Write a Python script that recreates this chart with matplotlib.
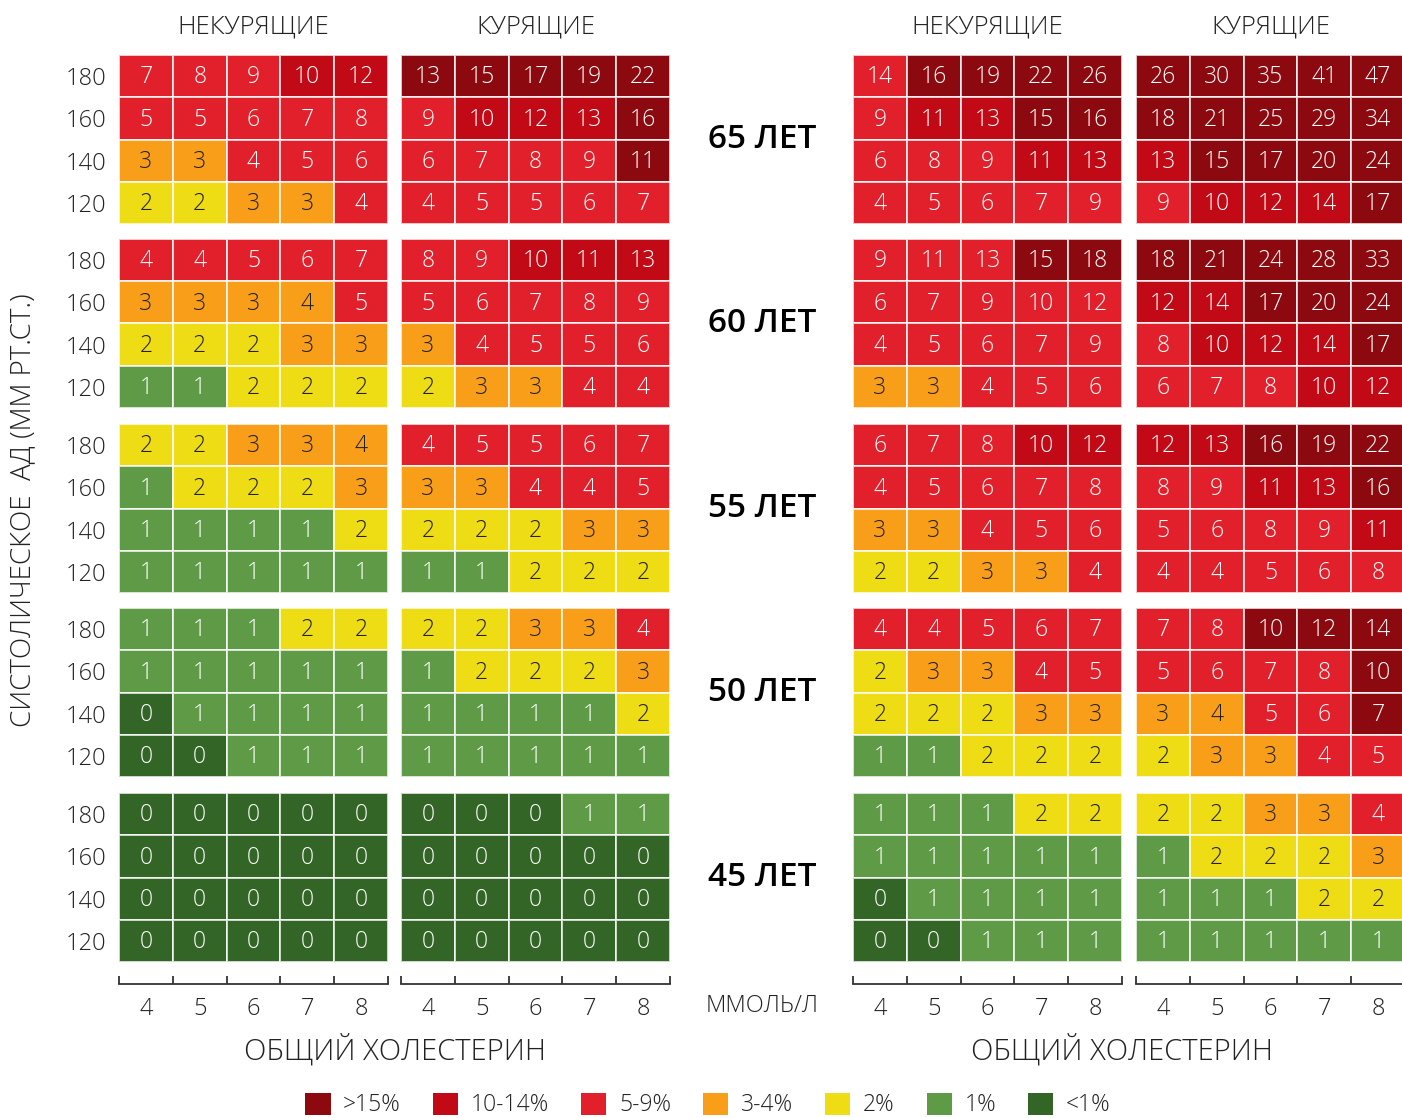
import numpy as np
import matplotlib
matplotlib.use("Agg")
import matplotlib.pyplot as plt
from matplotlib.colors import ListedColormap
from matplotlib.patches import Patch

plt.rcParams['font.family'] = ['Open Sans', 'DejaVu Sans']
plt.rcParams['font.weight'] = 'light'

# ---- data -------------------------------------------------------------
ages = ['65 ЛЕТ', '60 ЛЕТ', '55 ЛЕТ', '50 ЛЕТ', '45 ЛЕТ']
sbp = [180, 160, 140, 120]
chol = [4, 5, 6, 7, 8]
groups = ['НЕКУРЯЩИЕ', 'КУРЯЩИЕ', 'НЕКУРЯЩИЕ', 'КУРЯЩИЕ']

risk_labels = ['<1%', '1%', '2%', '3-4%', '5-9%', '10-14%', '>15%']
risk_colors = ['#336526', '#5f9a47', '#eedc14', '#f89e18',
               '#e2202b', '#c20a16', '#8c0a0f']

# values, one 4x5 grid per age (rows: 180..120, cols: 4..8)
left_nosmoke = [
    [[7, 8, 9, 10, 12], [5, 5, 6, 7, 8], [3, 3, 4, 5, 6], [2, 2, 3, 3, 4]],
    [[4, 4, 5, 6, 7], [3, 3, 3, 4, 5], [2, 2, 2, 3, 3], [1, 1, 2, 2, 2]],
    [[2, 2, 3, 3, 4], [1, 2, 2, 2, 3], [1, 1, 1, 1, 2], [1, 1, 1, 1, 1]],
    [[1, 1, 1, 2, 2], [1, 1, 1, 1, 1], [0, 1, 1, 1, 1], [0, 0, 1, 1, 1]],
    [[0, 0, 0, 0, 0], [0, 0, 0, 0, 0], [0, 0, 0, 0, 0], [0, 0, 0, 0, 0]],
]
left_smoke = [
    [[13, 15, 17, 19, 22], [9, 10, 12, 13, 16], [6, 7, 8, 9, 11], [4, 5, 5, 6, 7]],
    [[8, 9, 10, 11, 13], [5, 6, 7, 8, 9], [3, 4, 5, 5, 6], [2, 3, 3, 4, 4]],
    [[4, 5, 5, 6, 7], [3, 3, 4, 4, 5], [2, 2, 2, 3, 3], [1, 1, 2, 2, 2]],
    [[2, 2, 3, 3, 4], [1, 2, 2, 2, 3], [1, 1, 1, 1, 2], [1, 1, 1, 1, 1]],
    [[0, 0, 0, 1, 1], [0, 0, 0, 0, 0], [0, 0, 0, 0, 0], [0, 0, 0, 0, 0]],
]
right_nosmoke = [
    [[14, 16, 19, 22, 26], [9, 11, 13, 15, 16], [6, 8, 9, 11, 13], [4, 5, 6, 7, 9]],
    [[9, 11, 13, 15, 18], [6, 7, 9, 10, 12], [4, 5, 6, 7, 9], [3, 3, 4, 5, 6]],
    [[6, 7, 8, 10, 12], [4, 5, 6, 7, 8], [3, 3, 4, 5, 6], [2, 2, 3, 3, 4]],
    [[4, 4, 5, 6, 7], [2, 3, 3, 4, 5], [2, 2, 2, 3, 3], [1, 1, 2, 2, 2]],
    [[1, 1, 1, 2, 2], [1, 1, 1, 1, 1], [0, 1, 1, 1, 1], [0, 0, 1, 1, 1]],
]
right_smoke = [
    [[26, 30, 35, 41, 47], [18, 21, 25, 29, 34], [13, 15, 17, 20, 24], [9, 10, 12, 14, 17]],
    [[18, 21, 24, 28, 33], [12, 14, 17, 20, 24], [8, 10, 12, 14, 17], [6, 7, 8, 10, 12]],
    [[12, 13, 16, 19, 22], [8, 9, 11, 13, 16], [5, 6, 8, 9, 11], [4, 4, 5, 6, 8]],
    [[7, 8, 10, 12, 14], [5, 6, 7, 8, 10], [3, 4, 5, 6, 7], [2, 3, 3, 4, 5]],
    [[2, 2, 3, 3, 4], [1, 2, 2, 2, 3], [1, 1, 1, 2, 2], [1, 1, 1, 1, 1]],
]

# colour class of each cell as printed (index into risk_labels)
left_nosmoke_cls = [
    [[4, 4, 4, 5, 5], [4, 4, 4, 4, 4], [3, 3, 4, 4, 4], [2, 2, 3, 3, 4]],
    [[4, 4, 4, 4, 4], [3, 3, 3, 3, 4], [2, 2, 2, 3, 3], [1, 1, 2, 2, 2]],
    [[2, 2, 3, 3, 3], [1, 2, 2, 2, 3], [1, 1, 1, 1, 2], [1, 1, 1, 1, 1]],
    [[1, 1, 1, 2, 2], [1, 1, 1, 1, 1], [0, 1, 1, 1, 1], [0, 0, 1, 1, 1]],
    [[0, 0, 0, 0, 0], [0, 0, 0, 0, 0], [0, 0, 0, 0, 0], [0, 0, 0, 0, 0]],
]
left_smoke_cls = [
    [[6, 6, 6, 6, 6], [4, 5, 5, 5, 6], [4, 4, 4, 4, 6], [4, 4, 4, 4, 4]],
    [[4, 4, 5, 5, 5], [4, 4, 4, 4, 4], [3, 4, 4, 4, 4], [2, 3, 3, 4, 4]],
    [[4, 4, 4, 4, 4], [3, 3, 4, 4, 4], [2, 2, 2, 3, 3], [1, 1, 2, 2, 2]],
    [[2, 2, 3, 3, 4], [1, 2, 2, 2, 3], [1, 1, 1, 1, 2], [1, 1, 1, 1, 1]],
    [[0, 0, 0, 1, 1], [0, 0, 0, 0, 0], [0, 0, 0, 0, 0], [0, 0, 0, 0, 0]],
]
right_nosmoke_cls = [
    [[4, 6, 6, 6, 6], [4, 5, 5, 6, 6], [4, 4, 4, 5, 5], [4, 4, 4, 4, 4]],
    [[4, 4, 4, 6, 6], [4, 4, 4, 4, 4], [4, 4, 4, 4, 4], [3, 3, 4, 4, 4]],
    [[4, 4, 4, 5, 5], [4, 4, 4, 4, 4], [3, 3, 4, 4, 4], [2, 2, 3, 3, 4]],
    [[4, 4, 4, 4, 4], [2, 3, 3, 4, 4], [2, 2, 2, 3, 3], [1, 1, 2, 2, 2]],
    [[1, 1, 1, 2, 2], [1, 1, 1, 1, 1], [0, 1, 1, 1, 1], [0, 0, 1, 1, 1]],
]
right_smoke_cls = [
    [[6, 6, 6, 6, 6], [6, 6, 6, 6, 6], [5, 6, 6, 6, 6], [4, 5, 5, 5, 6]],
    [[6, 6, 6, 6, 6], [5, 5, 6, 6, 6], [4, 5, 5, 5, 6], [4, 4, 4, 5, 5]],
    [[5, 5, 6, 6, 6], [4, 4, 5, 5, 6], [4, 4, 4, 4, 5], [4, 4, 4, 4, 4]],
    [[4, 4, 6, 6, 6], [4, 4, 4, 4, 6], [3, 3, 4, 4, 6], [2, 3, 3, 4, 4]],
    [[2, 2, 3, 3, 4], [1, 2, 2, 2, 3], [1, 1, 1, 2, 2], [1, 1, 1, 1, 1]],
]

panels = [(left_nosmoke, left_nosmoke_cls), (left_smoke, left_smoke_cls),
          (right_nosmoke, right_nosmoke_cls), (right_smoke, right_smoke_cls)]

# ---- layout (pixels) --------------------------------------------------
W, H = 1402, 1118
px_left = [119, 401, 853, 1136]
pw = 269
band_top = [55, 239, 424, 608, 793]
bh = 169

fig = plt.figure(figsize=(W / 100, H / 100), dpi=100)
cmap = ListedColormap(risk_colors)
txt = '#222222'


def fx(x):
    return x / W


def fy(y):
    return 1 - y / H


for gi, (vals, cls) in enumerate(panels):
    for ai in range(len(ages)):
        x0, y0 = px_left[gi], band_top[ai]
        ax = fig.add_axes([fx(x0), fy(y0 + bh), pw / W, bh / H])
        c = np.array(cls[ai])
        ax.pcolormesh(c, cmap=cmap, vmin=-0.5, vmax=6.5,
                      edgecolors=(1, 1, 1, 0.75), linewidth=1.2)
        ax.set_xlim(0, 5)
        ax.set_ylim(4, 0)
        for r in range(4):
            for k in range(5):
                tc = txt if c[r, k] in (2, 3) else 'white'
                ax.text(k + 0.5, r + 0.53, str(vals[ai][r][k]), ha='center',
                        va='center', color=tc, fontsize=16.5)
        for s in ax.spines.values():
            s.set_visible(False)
        ax.set_xticks([])
        if gi == 0:
            ax.set_yticks([0.5, 1.5, 2.5, 3.5], labels=[str(v) for v in sbp])
            ax.tick_params(axis='y', length=0, pad=9, labelsize=17,
                           labelcolor=txt)
        else:
            ax.set_yticks([])
        if ai == len(ages) - 1:
            sp = ax.spines['bottom']
            sp.set_visible(True)
            sp.set_position(('outward', 16))
            sp.set_color('#333333')
            sp.set_linewidth(1.3)
            ax.set_xticks(range(6))
            ax.set_xticklabels([])
            ax.set_xticks(np.arange(5) + 0.5, minor=True)
            ax.set_xticklabels([str(v) for v in chol], minor=True)
            ax.tick_params(axis='x', which='major', direction='in', length=6,
                           width=1.3, color='#333333')
            ax.tick_params(axis='x', which='minor', length=0, pad=9,
                           labelsize=17, labelcolor=txt)

# headers
for gi, g in enumerate(groups):
    fig.text(fx(px_left[gi] + pw / 2), fy(27), g, ha='center', va='center',
             fontsize=18.5, color=txt)

# age labels
for ai, a in enumerate(ages):
    fig.text(fx(762), fy(band_top[ai] + bh / 2), a, ha='center', va='center',
             fontsize=24, fontweight='semibold', color='black')

fig.text(fx(762), fy(1006), 'ММОЛЬ/Л', ha='center', va='center',
         fontsize=17, color=txt)
for cx in (395, 1122):
    fig.text(fx(cx), fy(1050), 'ОБЩИЙ ХОЛЕСТЕРИН', ha='center', va='center',
             fontsize=21, color=txt)
fig.text(fx(23), fy(510), 'СИСТОЛИЧЕСКОЕ  АД (ММ РТ.СТ.)', rotation=90,
         ha='center', va='center', fontsize=20, color=txt)

# legend (highest risk first)
handles = [Patch(facecolor=risk_colors[i], edgecolor='none')
           for i in range(6, -1, -1)]
labels = [risk_labels[i] for i in range(6, -1, -1)]
fig.legend(handles, labels, ncol=7, loc='center', bbox_to_anchor=(fx(708), fy(1105)),
           frameon=False, fontsize=16.5, handlelength=1.1, handleheight=1.1,
           handletextpad=0.55, columnspacing=1.4, labelcolor=txt)

fig.savefig('out.png', dpi=100)
